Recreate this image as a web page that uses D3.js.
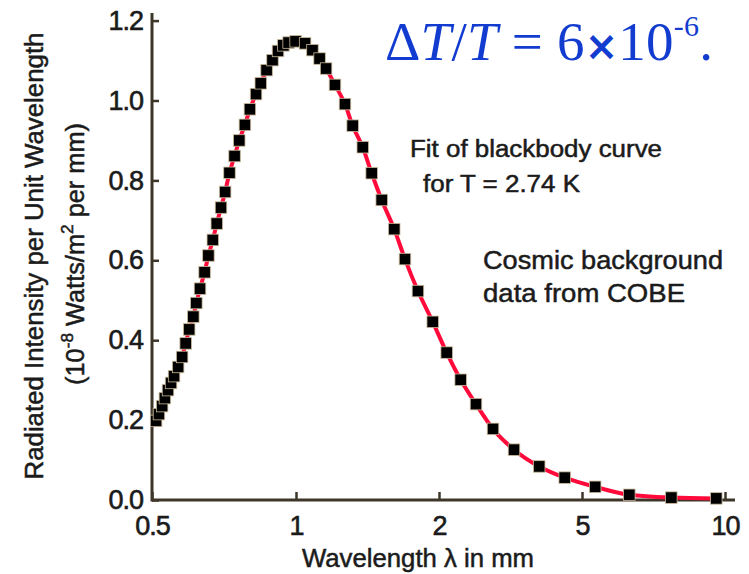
<!DOCTYPE html>
<html>
<head>
<meta charset="utf-8">
<script src="https://cdn.jsdelivr.net/npm/d3@7"></script>
<style>
  body { margin: 0; background: #fff; }
  svg { display: block; }
</style>
</head>
<body>
<div id="chart"></div>
<script>
// COBE data (wavelength in mm, intensity in 1e-8 W/m^2 per mm)
var wavelength = [0.510, 0.517, 0.525, 0.532, 0.540, 0.548, 0.556, 0.567, 0.578, 0.588,
    0.598, 0.610, 0.619, 0.630, 0.644, 0.656, 0.670, 0.683, 0.697, 0.711,
    0.726, 0.744, 0.761, 0.782, 0.801, 0.825, 0.844, 0.868, 0.893, 0.917,
    0.941, 0.965, 0.998, 1.045, 1.083, 1.121, 1.157, 1.208, 1.268, 1.316,
    1.382, 1.443, 1.515, 1.610, 1.696, 1.806, 1.940, 2.101, 2.298, 2.535,
    2.827, 3.234, 3.801, 4.476, 5.330, 6.289, 7.709, 9.587];
var intensity = [0.198, 0.215, 0.235, 0.255, 0.275, 0.293, 0.310, 0.333, 0.358, 0.392,
    0.427, 0.459, 0.493, 0.529, 0.570, 0.612, 0.651, 0.692, 0.732, 0.771,
    0.819, 0.861, 0.900, 0.939, 0.978, 1.016, 1.043, 1.076, 1.101, 1.124,
    1.138, 1.145, 1.148, 1.143, 1.126, 1.105, 1.080, 1.039, 0.991, 0.937,
    0.883, 0.818, 0.751, 0.678, 0.603, 0.523, 0.446, 0.369, 0.301, 0.240,
    0.178, 0.126, 0.084, 0.056, 0.033, 0.013, 0.006, 0.004];

var xTicks = [0.5, 1, 2, 5, 10];
var yTicks = [0, 0.2, 0.4, 0.6, 0.8, 1.0, 1.2];

var width = 749, height = 574;
var axisColor = "#3e3729";
var textColor = "#1b1b1b";
var font = "'Liberation Sans', Arial, Helvetica, sans-serif";

var svg = d3.select("#chart").append("svg")
    .attr("width", width)
    .attr("height", height);

// x axis: log scale with the ticks evenly spaced, as in the original figure
var x = d3.scaleLog().domain(xTicks).range([152, 296, 439, 582, 725]);
var y = d3.scaleLinear().domain([0, 1.2]).range([500, 20.6]);

var points = wavelength.map(function(w, i) { return {w: w, v: intensity[i]}; });

// axes
var xAxis = svg.append("g")
    .attr("transform", "translate(0," + y(0) + ")")
    .call(d3.axisBottom(x).tickValues(xTicks).tickFormat(d3.format("")).tickSizeInner(-8).tickSizeOuter(0).tickPadding(16));

var yAxis = svg.append("g")
    .attr("transform", "translate(" + x(0.5) + ",0)")
    .call(d3.axisLeft(y).tickValues(yTicks).tickFormat(d3.format(".1f")).tickSizeInner(-7).tickSizeOuter(0).tickPadding(9));

[xAxis, yAxis].forEach(function(g) {
    g.select(".domain").remove();
    g.selectAll(".tick line").attr("stroke", axisColor).attr("stroke-width", 2.5);
    g.selectAll(".tick text")
        .attr("fill", textColor)
        .attr("stroke", textColor).attr("stroke-width", 0.6)
        .style("font-family", font)
        .style("font-size", "27px")
        .style("letter-spacing", "-1px");
});

// axis lines
svg.append("line")
    .attr("x1", x(0.5)).attr("x2", 735)
    .attr("y1", y(0)).attr("y2", y(0))
    .attr("stroke", axisColor).attr("stroke-width", 3);
svg.append("line")
    .attr("x1", x(0.5)).attr("x2", x(0.5))
    .attr("y1", 13).attr("y2", y(0) + 1.5)
    .attr("stroke", axisColor).attr("stroke-width", 3);

// blackbody fit curve
var line = d3.line()
    .x(function(d) { return x(d.w); })
    .y(function(d) { return y(d.v); })
    .curve(d3.curveMonotoneX);

svg.append("path")
    .datum(points)
    .attr("fill", "none")
    .attr("stroke", "#ff0a3a")
    .attr("stroke-width", 4)
    .attr("d", line);

// data markers
var size = 11.5;
svg.selectAll(".marker")
    .data(points)
    .enter().append("rect")
    .attr("class", "marker")
    .attr("x", function(d) { return x(d.w) - size / 2; })
    .attr("y", function(d) { return y(d.v) - size / 2; })
    .attr("width", size)
    .attr("height", size)
    .attr("fill", "#000")
    .attr("stroke", "#c9b998")
    .attr("stroke-width", 0.8);

// text helper: thin stroke makes the glyphs as heavy as in the scan
function label(sel, fs) {
    return sel.style("font-family", font).style("font-size", fs + "px")
        .attr("fill", textColor).attr("stroke", textColor).attr("stroke-width", 0.5);
}

// axis titles
label(svg.append("text"), 25)
    .attr("x", 418).attr("y", 567)
    .attr("text-anchor", "middle")
    .attr("textLength", 232).attr("lengthAdjust", "spacingAndGlyphs")
    .text("Wavelength \u03bb in mm");

label(svg.append("text"), 25)
    .attr("transform", "translate(43,256) rotate(-90)")
    .attr("text-anchor", "middle")
    .attr("textLength", 447).attr("lengthAdjust", "spacingAndGlyphs")
    .text("Radiated Intensity per Unit Wavelength");

var yl2 = label(svg.append("text"), 25)
    .attr("transform", "translate(84,254) rotate(-90)")
    .attr("text-anchor", "middle")
    .attr("textLength", 262).attr("lengthAdjust", "spacingAndGlyphs");
yl2.append("tspan").text("(10");
yl2.append("tspan").attr("dy", -11).style("font-size", "17px").text("-8");
yl2.append("tspan").attr("dy", 11).text(" Watts/m");
yl2.append("tspan").attr("dy", -11).style("font-size", "17px").text("2");
yl2.append("tspan").attr("dy", 11).text(" per mm)");

// annotations
function note(txt, x0, y0, len, fs) {
    label(svg.append("text"), fs)
        .attr("x", x0).attr("y", y0)
        .attr("textLength", len).attr("lengthAdjust", "spacingAndGlyphs")
        .text(txt);
}
note("Fit of blackbody curve", 410, 157, 252, 23);
note("for T = 2.74 K", 423, 192, 157, 23);
note("Cosmic background", 483, 269, 240, 26);
note("data from COBE", 483, 302, 202, 26);

// title formula
var title = svg.append("text")
    .attr("x", 385).attr("y", 60)
    .attr("textLength", 328).attr("lengthAdjust", "spacing")
    .style("font-family", "'Liberation Serif', 'Times New Roman', serif")
    .style("font-size", "55px")
    .attr("fill", "#123ccf");
title.append("tspan").text("\u0394");
title.append("tspan").style("font-style", "italic").text("T");
title.append("tspan").text("/");
title.append("tspan").style("font-style", "italic").text("T");
title.append("tspan").text(" = 6");
title.append("tspan").style("font-family", "'DejaVu Sans', sans-serif").style("font-weight", "bold").style("font-size", "40px").text("\u00d7");
title.append("tspan").text("10");
title.append("tspan").attr("dy", -24).style("font-size", "30px").text("-6");
title.append("tspan").attr("dy", 24).text(".");
</script>
</body>
</html>
